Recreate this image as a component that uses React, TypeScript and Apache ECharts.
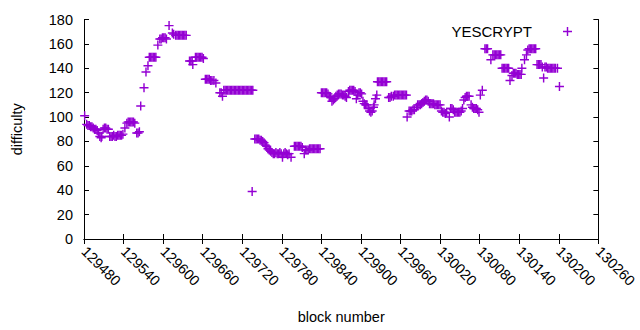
import React, { useEffect, useRef } from "react";
import * as echarts from "echarts";

const seriesName = "YESCRYPT";
const xTitle = "block number";
const yTitle = "difficulty";

const xMin = 129480;
const xMax = 130260;
const xStep = 60;
const yMin = 0;
const yMax = 180;
const yStep = 20;

// [block number, difficulty]
const pointsA: [number, number][] = [
  [129481, 101], [129484, 94], [129486, 93], [129488, 93], [129490, 92], [129492, 92],
  [129494, 91], [129496, 90], [129498, 90], [129500, 89], [129502, 87],
  [129504, 84], [129506, 83], [129507, 84],
  [129509, 90], [129511, 91], [129513, 91], [129515, 90], [129517, 90],
  [129519, 84], [129521, 84], [129523, 84], [129525, 85], [129527, 84],
  [129529, 84], [129531, 85], [129533, 85], [129535, 85], [129537, 85], [129539, 86],
  [129542, 91],
  [129545, 95], [129547, 96], [129549, 96], [129551, 96], [129553, 96], [129555, 96], [129557, 95],
  [129560, 87], [129562, 87], [129564, 88],
  [129566, 109], [129571, 124], [129574, 137], [129577, 142],
  [129579, 149], [129581, 149], [129583, 149], [129585, 149], [129587, 149], [129589, 149],
  [129592, 159],
  [129595, 164], [129597, 164], [129599, 165], [129601, 165], [129603, 165], [129605, 164],
  [129609, 175], [129614, 169], [129616, 168],
  [129619, 167], [129621, 167], [129623, 167], [129625, 167], [129627, 167], [129629, 167],
  [129631, 167], [129633, 167], [129635, 167],
  [129640, 146], [129642, 146], [129644, 146], [129645, 143],
  [129649, 149], [129651, 149], [129653, 149], [129655, 149], [129657, 149], [129659, 149], [129661, 148],
  [129664, 131], [129666, 131], [129668, 131], [129670, 131], [129672, 130], [129674, 130],
  [129677, 130], [129680, 128],
  [129686, 120], [129688, 120], [129690, 117],
  [129692, 122], [129694, 122], [129696, 122], [129698, 122], [129700, 122], [129702, 122],
  [129704, 122], [129706, 122], [129708, 122], [129710, 122], [129712, 122], [129714, 122],
  [129716, 122], [129718, 122], [129720, 122], [129722, 122], [129724, 122], [129726, 122],
  [129728, 122], [129730, 122], [129732, 122], [129734, 122], [129735, 39], [129736, 122],
];

const pointsB: [number, number][] = [
  [129739, 82], [129741, 82], [129743, 82], [129745, 82], [129747, 81], [129749, 81],
  [129751, 80], [129753, 79],
  [129755, 77], [129757, 76], [129759, 74], [129761, 73], [129763, 72], [129765, 71],
  [129767, 70], [129769, 70], [129771, 71], [129773, 70], [129775, 70], [129777, 71],
  [129779, 70], [129781, 67], [129783, 70], [129785, 71], [129787, 70], [129789, 69],
  [129791, 70], [129794, 67],
  [129799, 76], [129801, 76], [129803, 76], [129805, 76], [129807, 76], [129809, 76], [129811, 75],
  [129814, 70],
  [129816, 73], [129818, 73], [129820, 73], [129822, 74], [129824, 74], [129826, 74],
  [129828, 74], [129830, 74], [129832, 74], [129834, 74], [129836, 74], [129838, 74],
];

const pointsC: [number, number][] = [
  [129840, 120], [129842, 120], [129844, 120], [129846, 120], [129848, 120], [129850, 119],
  [129852, 117], [129854, 116], [129856, 113], [129858, 114], [129860, 115], [129862, 117],
  [129864, 118], [129866, 119], [129868, 119], [129870, 119], [129872, 118], [129874, 118],
  [129876, 117], [129878, 116],
  [129881, 121], [129883, 122], [129885, 122], [129887, 122], [129889, 122], [129891, 121],
  [129893, 115],
  [129895, 118], [129897, 120], [129899, 120], [129901, 119],
  [129903, 113], [129905, 111], [129907, 110], [129909, 110],
  [129911, 107], [129913, 105], [129915, 104], [129917, 105],
  [129919, 108], [129920, 110], [129922, 115], [129924, 118], [129925, 129],
  [129927, 129], [129929, 129], [129931, 129], [129933, 129], [129935, 129], [129937, 129], [129939, 129],
  [129942, 116], [129944, 116], [129946, 117],
  [129949, 117], [129951, 118], [129953, 118], [129955, 118], [129957, 118], [129959, 118],
  [129961, 118], [129963, 118], [129965, 118], [129967, 118], [129969, 118],
  [129970, 100],
  [129973, 105], [129975, 105], [129977, 105], [129979, 106], [129981, 106],
  [129984, 108], [129986, 110], [129988, 110], [129990, 110], [129992, 111], [129994, 112],
  [129996, 113], [129998, 114], [130000, 114], [130002, 113],
  [130004, 111], [130006, 111], [130008, 111], [130010, 111], [130012, 110], [130014, 110],
  [130016, 110], [130018, 110], [130020, 110],
  [130022, 105], [130024, 104], [130026, 104], [130028, 103], [130030, 104], [130034, 100],
  [130036, 107], [130038, 107], [130040, 106],
  [130042, 104], [130044, 104], [130046, 104], [130048, 104], [130050, 104], [130052, 105],
  [130054, 107],
  [130056, 114], [130058, 116], [130060, 117], [130062, 117], [130064, 117],
  [130067, 110], [130069, 108],
  [130071, 107], [130073, 107], [130075, 107], [130077, 106],
  [130079, 104], [130081, 118], [130084, 122],
];

const pointsD: [number, number][] = [
  [130088, 156], [130090, 156], [130092, 156],
  [130097, 147],
  [130100, 151], [130102, 151], [130104, 151], [130106, 151], [130108, 151], [130110, 151], [130112, 151],
  [130114, 140], [130116, 140], [130118, 140], [130120, 140], [130122, 140], [130124, 140],
  [130126, 130], [130129, 134],
  [130131, 136], [130133, 136], [130135, 136], [130137, 135], [130139, 135], [130141, 135], [130143, 135],
  [130144, 140], [130148, 147], [130151, 151], [130153, 155],
  [130155, 156], [130157, 156], [130159, 156], [130161, 156], [130163, 156], [130165, 156],
  [130167, 143], [130169, 143], [130171, 143], [130173, 143],
  [130175, 141], [130177, 132], [130179, 141], [130181, 141], [130183, 140], [130185, 140],
  [130187, 140], [130189, 140], [130191, 140], [130193, 140], [130195, 140], [130198, 140],
  [130201, 125],
];

export default function App() {
  const ref = useRef<HTMLDivElement>(null);
  useEffect(() => {
    if (!ref.current) return;
    const chart = echarts.init(ref.current, null, { renderer: "svg" });
    const font = "'Liberation Sans', Arial, sans-serif";
    const plus = "path://M0,4.2H10V5.8H0ZM4.2,0H5.8V10H4.2Z";
    const color = "#9400d3";
    const line = { show: true, lineStyle: { color: "#000", width: 1 } };
    const tick = { show: true, inside: true, length: 5, lineStyle: { color: "#000", width: 1 } };
    chart.setOption({
      animation: false,
      backgroundColor: "#fff",
      textStyle: { fontFamily: font },
      grid: { left: 84, right: 30.5, top: 19.5, bottom: 91, containLabel: false },
      legend: {
        data: [seriesName],
        right: 68,
        top: 24,
        align: "right",
        icon: plus,
        itemWidth: 9,
        itemHeight: 9,
        padding: 0,
        textStyle: { fontSize: 15, color: "#000", fontFamily: font, padding: [0, 26, 0, 0] },
      },
      xAxis: [
        {
          type: "value",
          min: xMin,
          max: xMax,
          interval: xStep,
          name: xTitle,
          nameLocation: "middle",
          nameGap: 70,
          nameTextStyle: { fontSize: 14.5, color: "#000", fontFamily: font },
          axisLine: line,
          axisTick: tick,
          splitLine: { show: false },
          axisLabel: {
            rotate: -45,
            margin: 10,
            fontSize: 14.5,
            color: "#000",
            fontFamily: font,
            showMinLabel: true,
            showMaxLabel: true,
            formatter: (v: number) => String(v),
          },
        },
        {
          type: "value",
          position: "top",
          min: xMin,
          max: xMax,
          interval: xStep,
          axisLine: line,
          axisTick: tick,
          splitLine: { show: false },
          axisLabel: { show: false },
        },
      ],
      yAxis: [
        {
          type: "value",
          min: yMin,
          max: yMax,
          interval: yStep,
          name: yTitle,
          nameLocation: "middle",
          nameGap: 60,
          nameTextStyle: { fontSize: 14.5, color: "#000", fontFamily: font },
          axisLine: line,
          axisTick: tick,
          splitLine: { show: false },
          axisLabel: { margin: 11, fontSize: 14.5, color: "#000", fontFamily: font },
        },
        {
          type: "value",
          position: "right",
          min: yMin,
          max: yMax,
          interval: yStep,
          axisLine: line,
          axisTick: tick,
          splitLine: { show: false },
          axisLabel: { show: false },
        },
      ],
      series: [
        {
          name: seriesName,
          type: "scatter",
          xAxisIndex: 0,
          yAxisIndex: 0,
          symbol: plus,
          symbolSize: [9, 9],
          itemStyle: { color, opacity: 1 },
          data: [...pointsA, ...pointsB, ...pointsC, ...pointsD],
        },
      ],
    });
    return () => chart.dispose();
  }, []);
  return (
    <div
      ref={ref}
      style={{ position: "fixed", left: 0, top: 0, width: 640, height: 330 }}
    />
  );
}
